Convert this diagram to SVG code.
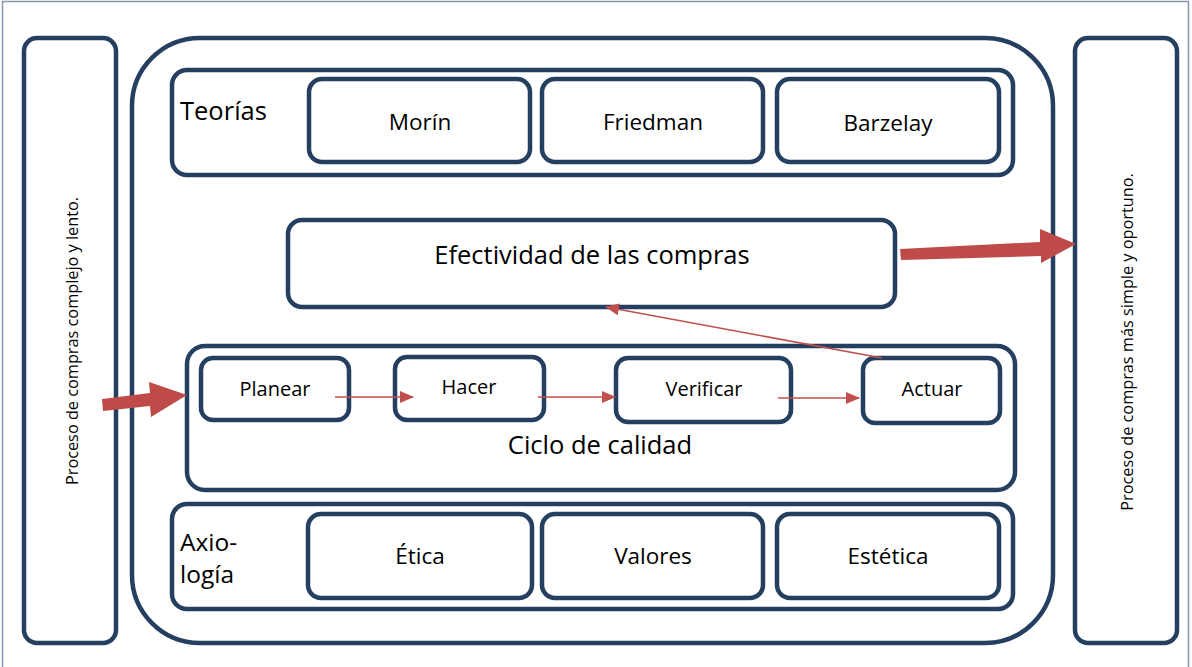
<svg xmlns="http://www.w3.org/2000/svg" width="1192" height="667" viewBox="0 0 1192 667">
<style>
.b{fill:#fff;stroke:#243f60;stroke-width:4.5}
.t{font-family:"Open Sans",Lato,sans-serif;fill:#000;text-anchor:middle}
.l{font-family:"Open Sans",Lato,sans-serif;fill:#000}
.thin{stroke:#c0504d;stroke-width:1.6;fill:none}
.fat{fill:#be4b48}
</style>
<defs>
<marker id="ah" markerWidth="14" markerHeight="12" refX="13" refY="6" orient="auto" markerUnits="userSpaceOnUse">
<path d="M0,0 L14,6 L0,12 Z" fill="#c0504d"/>
</marker>
</defs>
<rect width="1192" height="667" fill="#fff"/>
<rect x="2.5" y="1.5" width="1186" height="680" fill="none" stroke="#8496b0" stroke-width="1.5"/>
<g id="left-box"><rect class="b" x="24" y="38" width="92" height="605" rx="13"/>
<text class="t" font-size="16.3" transform="translate(78,341) rotate(-90)">Proceso de compras complejo y lento.</text></g>
<g id="right-box"><rect class="b" x="1075" y="38" width="102" height="605" rx="13"/>
<text class="t" font-size="16.3" transform="translate(1133,342) rotate(-90)">Proceso de compras más simple y oportuno.</text></g>
<g id="main"><rect class="b" x="132" y="38" width="921" height="605" rx="68"/></g>
<g id="teorias"><rect class="b" x="172" y="70" width="841" height="105" rx="15"/>
<text class="l" font-size="25.5" x="180" y="120">Teorías</text></g>
<g id="morin"><rect class="b" x="309" y="79" width="221" height="83" rx="13"/><text class="t" font-size="22.5" x="420" y="130">Morín</text></g>
<g id="friedman"><rect class="b" x="542" y="79" width="221" height="83" rx="13"/><text class="t" font-size="22.5" x="653" y="130">Friedman</text></g>
<g id="barzelay"><rect class="b" x="777" y="79" width="222" height="83" rx="13"/><text class="t" font-size="22.5" x="888" y="131">Barzelay</text></g>
<g id="efectividad"><rect class="b" x="288" y="220" width="607" height="87" rx="14"/><text class="t" font-size="25.5" x="592" y="264">Efectividad de las compras</text></g>
<g id="ciclo"><rect class="b" x="187" y="346" width="828" height="144" rx="18"/><text class="t" font-size="25.5" x="600" y="454">Ciclo de calidad</text></g>
<g id="planear"><rect class="b" x="201" y="358" width="148" height="62" rx="12"/><text class="t" font-size="20" x="275" y="396">Planear</text></g>
<g id="hacer"><rect class="b" x="395" y="357" width="149" height="63" rx="12"/><text class="t" font-size="20" x="469" y="394">Hacer</text></g>
<g id="verificar"><rect class="b" x="616" y="358" width="175" height="64" rx="12"/><text class="t" font-size="20" x="704" y="396">Verificar</text></g>
<g id="actuar"><rect class="b" x="863" y="358" width="137" height="65" rx="12"/><text class="t" font-size="20" x="932" y="396">Actuar</text></g>
<g id="axiologia"><rect class="b" x="172" y="504" width="841" height="105" rx="15"/>
<text class="l" font-size="24.5" x="180" y="551">Axio-</text><text class="l" font-size="24.5" x="180" y="583">logía</text></g>
<g id="etica"><rect class="b" x="308" y="514" width="224" height="84" rx="13"/><text class="t" font-size="22.5" x="420" y="564">Ética</text></g>
<g id="valores"><rect class="b" x="542" y="514" width="221" height="84" rx="13"/><text class="t" font-size="22.5" x="653" y="564">Valores</text></g>
<g id="estetica"><rect class="b" x="777" y="514" width="222" height="84" rx="13"/><text class="t" font-size="22.5" x="888" y="564">Estética</text></g>
<g id="connectors">
<path class="fat" d="M102,399 L150,393 L149,382 L187,395 L151,417 L150,406 L103,411 Z"/>
<path class="fat" d="M900,249 L1040,242 L1040,229 L1076,244 L1041,263 L1041,256 L901,260 Z"/>
<line class="thin" x1="335" y1="397" x2="413" y2="397" marker-end="url(#ah)"/>
<line class="thin" x1="538" y1="397" x2="615" y2="397" marker-end="url(#ah)"/>
<line class="thin" x1="778" y1="398" x2="859" y2="398" marker-end="url(#ah)"/>
<line class="thin" x1="882" y1="358" x2="606" y2="307" marker-end="url(#ah)"/>
</g>
</svg>
